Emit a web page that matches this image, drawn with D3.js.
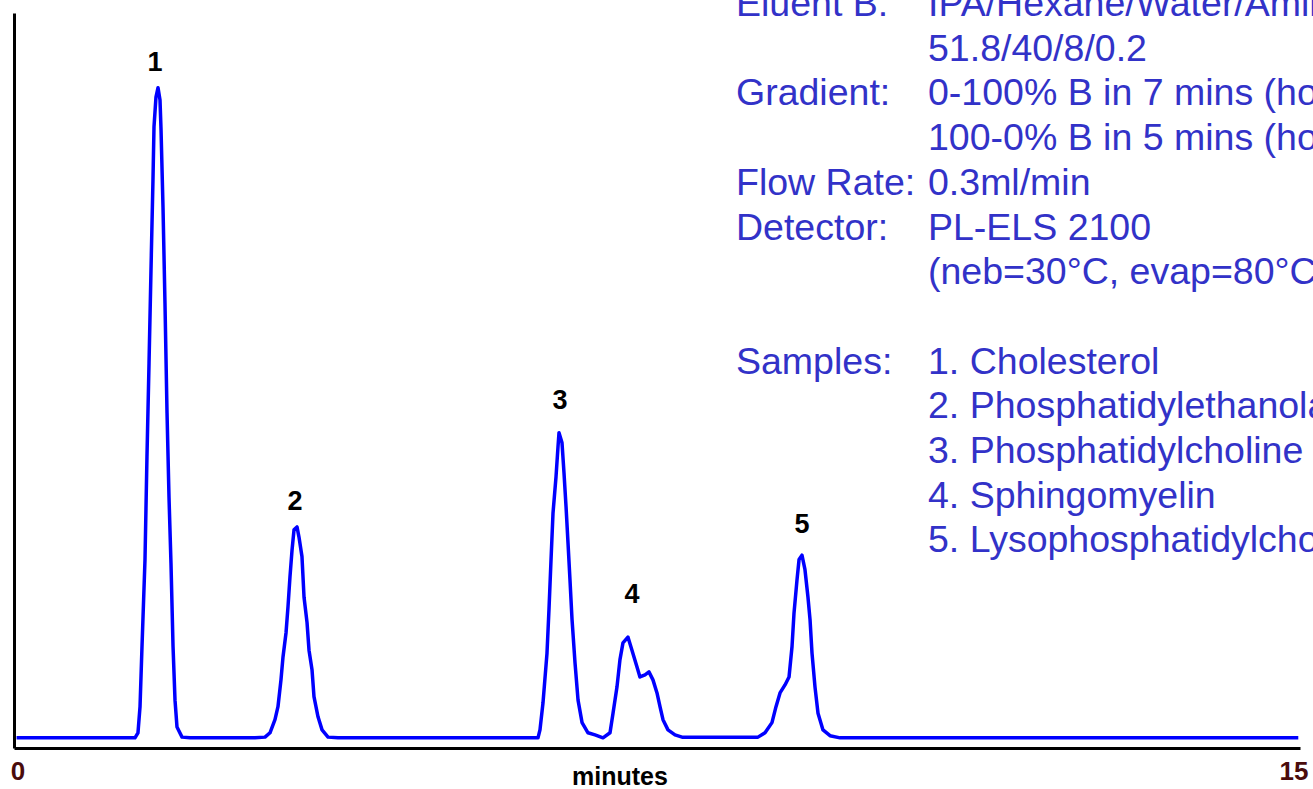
<!DOCTYPE html>
<html>
<head>
<meta charset="utf-8">
<script src="https://cdn.jsdelivr.net/npm/d3@7"></script>
<style>
  body { margin: 0; background: #fff; }
  svg { display: block; font-family: "Liberation Sans", Arial, sans-serif; }
</style>
</head>
<body>
<svg id="chart" width="1313" height="789"></svg>
<script>
// trace: retention time (minutes) and detector signal
var traceTime = [0.03, 1.411, 1.446, 1.470, 1.493, 1.528, 1.551, 1.575, 1.598, 1.621, 1.633, 1.656, 1.680,
  1.703, 1.715, 1.738, 1.761, 1.785, 1.808, 1.831, 1.855, 1.878, 1.901, 1.960, 2.053,
  2.811, 2.928, 2.986, 3.044, 3.079, 3.114, 3.138, 3.173, 3.196, 3.219, 3.243, 3.266, 3.301,
  3.324, 3.359, 3.383, 3.418, 3.441, 3.476, 3.499, 3.546, 3.593, 3.663, 3.779,
  6.112, 6.135, 6.170, 6.217, 6.240, 6.264, 6.287, 6.322, 6.345, 6.357, 6.392, 6.415, 6.439,
  6.462, 6.485, 6.509, 6.544, 6.579, 6.626, 6.695, 6.777, 6.870,
  6.952, 6.987, 7.033, 7.068, 7.103, 7.161, 7.208, 7.266, 7.301, 7.360, 7.406, 7.453, 7.500,
  7.535, 7.570, 7.628, 7.710, 7.792,
  8.678, 8.760, 8.841, 8.888, 8.935, 8.993, 9.040, 9.075, 9.098, 9.133, 9.157, 9.191, 9.226,
  9.261, 9.285, 9.308, 9.343, 9.378, 9.436, 9.518, 9.635, 14.98];
var traceSignal = [0, 0, 0.7, 4.3, 12.6, 24.6, 38.8, 51.7, 64.6, 77.0, 84.3, 88.4, 89.7,
  88.0, 83.9, 73.2, 60.0, 44.8, 33.2, 24.1, 12.6, 5.2, 1.5, 0.1, 0,
  0, 0.1, 0.7, 2.5, 4.3, 8.0, 11.2, 14.5, 18.1, 22.2, 25.9, 28.7, 29.1,
  27.7, 25.0, 19.4, 15.9, 12.1, 9.4, 5.7, 2.9, 1.1, 0.1, 0,
  0, 1.1, 4.8, 11.7, 17.7, 24.6, 31.0, 36.0, 40.1, 42.1, 40.7, 36.6, 31.9,
  26.9, 21.8, 16.3, 10.3, 5.2, 2.1, 0.7, 0.4, 0,
  0.7, 3.4, 7.0, 10.8, 13.1, 13.9, 12.1, 9.8, 8.4, 8.7, 9.1, 8.0, 6.2,
  4.3, 2.5, 1.1, 0.4, 0.1,
  0.1, 0.7, 2.1, 4.3, 6.2, 7.3, 8.4, 12.6, 17.2, 21.8, 24.6, 25.2, 23.2,
  19.4, 16.3, 11.7, 7.0, 3.4, 1.1, 0.3, 0, 0];

// peak numbers
var peakNames = ["1", "2", "3", "4", "5"];
var peakLabelTime = [1.645, 3.278, 6.369, 7.209, 9.191];
var peakLabelLevel = [92.0, 31.4, 45.4, 18.6, 28.3];

// method notes on the right
var noteLabels = ["Eluent B:", "", "Gradient:", "", "Flow Rate:", "Detector:", "", "",
  "Samples:", "", "", "", ""];
var noteValues = ["IPA/Hexane/Water/Amine", "51.8/40/8/0.2", "0-100% B in 7 mins (hold 3 mins)",
  "100-0% B in 5 mins (hold 5 mins)", "0.3ml/min", "PL-ELS 2100", "(neb=30\u00B0C, evap=80\u00B0C)", "",
  "1. Cholesterol", "2. Phosphatidylethanolamine", "3. Phosphatidylcholine",
  "4. Sphingomyelin", "5. Lysophosphatidylcholine"];

var xTicks = [0, 15];

var svg = d3.select("#chart");

var x = d3.scaleLinear().domain([0, 15]).range([14, 1300]);
var y = d3.scaleLinear().domain([-1.4, 100]).range([748, 13]);

// notes
var notes = svg.append("g")
  .attr("fill", "#3232c8")
  .style("font-size", "37.5px");
noteValues.forEach(function (v, i) {
  var by = 16 + i * 44.7;
  notes.append("text").attr("x", 736).attr("y", by).text(noteLabels[i]);
  notes.append("text").attr("x", 928).attr("y", by).text(v);
});

// axes
var xAxis = svg.append("g")
  .attr("transform", "translate(0,748)")
  .call(d3.axisBottom(x).tickValues(xTicks).tickSize(0).tickSizeOuter(0).tickPadding(0));
xAxis.select(".domain").attr("stroke", "#000").attr("stroke-width", 3);
xAxis.selectAll("text")
  .attr("y", 32)
  .attr("dy", null)
  .attr("fill", "#4a0c0c")
  .style("font-size", "26px")
  .style("font-weight", "bold")
  .style("font-family", "Liberation Sans, Arial, sans-serif")
  .attr("text-anchor", function (d) { return d === 0 ? "middle" : "end"; })
  .attr("dx", function (d) { return d === 0 ? 3.5 : 8; });

var yAxis = svg.append("g")
  .attr("transform", "translate(14,0)")
  .call(d3.axisLeft(y).tickValues([]).tickSizeOuter(0));
yAxis.select(".domain").attr("stroke", "#000").attr("stroke-width", 3);

svg.append("text")
  .attr("x", 620)
  .attr("y", 785)
  .attr("text-anchor", "middle")
  .style("font-size", "25px")
  .style("font-weight", "bold")
  .text("minutes");

// trace
var pts = traceTime.map(function (t, i) { return [t, traceSignal[i]]; });
var line = d3.line()
  .x(function (d) { return x(d[0]); })
  .y(function (d) { return y(d[1]); });

svg.append("path")
  .datum(pts)
  .attr("fill", "none")
  .attr("stroke", "#0000ff")
  .attr("stroke-width", 3.5)
  .attr("stroke-linejoin", "round")
  .attr("d", line);

// peak numbers
svg.append("g").selectAll("text")
  .data(peakNames)
  .join("text")
  .attr("x", function (d, i) { return x(peakLabelTime[i]); })
  .attr("y", function (d, i) { return y(peakLabelLevel[i]); })
  .attr("text-anchor", "middle")
  .style("font-size", "27px")
  .style("font-weight", "bold")
  .text(function (d) { return d; });
</script>
</body>
</html>
